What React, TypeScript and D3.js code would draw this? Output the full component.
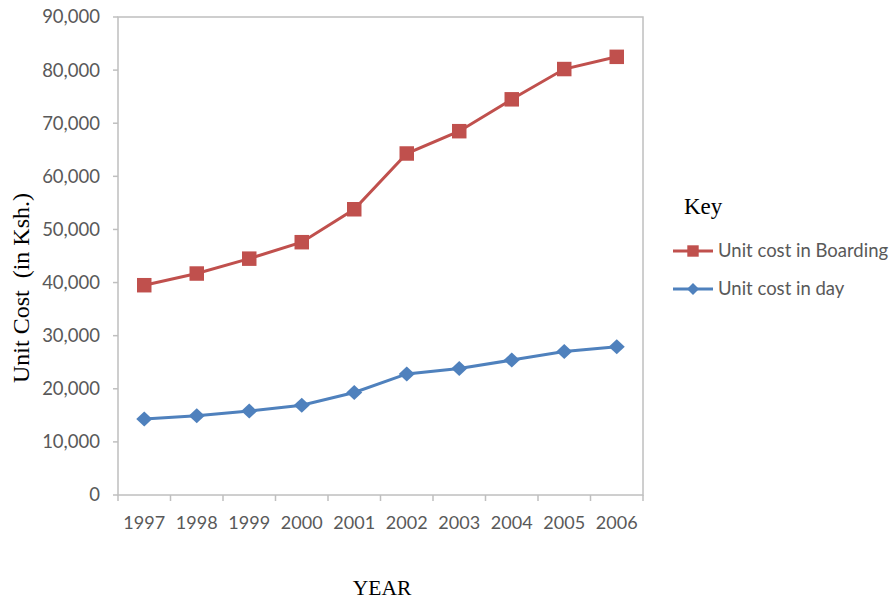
import React from "react";
import * as d3 from "d3";

// Unit cost per student (Ksh.), 1997–2006
const years = ["1997", "1998", "1999", "2000", "2001", "2002", "2003", "2004", "2005", "2006"];
const boardingCost = [39500, 41700, 44500, 47600, 53800, 64300, 68500, 74500, 80200, 82500];
const dayCost = [14300, 14900, 15800, 16900, 19300, 22800, 23800, 25400, 27000, 27900];
const yTicks = [0, 10000, 20000, 30000, 40000, 50000, 60000, 70000, 80000, 90000];
const seriesNames = ["Unit cost in Boarding", "Unit cost in day"];

const W = 893;
const H = 601;
const plot = { left: 118, right: 643, top: 17, bottom: 495 };

const RED = "#C0504D";
const BLUE = "#4F81BD";
const AXIS = "#BFBFBF";
const LABEL = "#595959";
const SANS = "Lato, 'Open Sans', sans-serif";
const SERIF = "'Liberation Serif', 'DejaVu Serif', serif";

// diamond marker: a square turned 45°
const diamondPath = (hw: number, hh: number) => `M0,${-hh}L${hw},0L0,${hh}L${-hw},0Z`;

export default function App() {
  const x = d3.scaleBand<string>().domain(years).range([plot.left, plot.right]).padding(0);
  const y = d3.scaleLinear().domain([0, 90000]).range([plot.bottom, plot.top]);
  const cx = (yr: string) => (x(yr) as number) + x.bandwidth() / 2;

  const line = d3
    .line<number>()
    .x((_, i) => cx(years[i]))
    .y((d) => y(d));

  const square = d3.symbol(d3.symbolSquare, 210);
  const boundaries = years.map((yr) => x(yr) as number).concat([plot.right]);

  return (
    <svg
      width={W}
      height={H}
      style={{ position: "absolute", left: 0, top: 0, background: "#fff" }}
    >
      {/* plot frame */}
      <rect
        x={plot.left}
        y={plot.top}
        width={plot.right - plot.left}
        height={plot.bottom - plot.top}
        fill="none"
        stroke={AXIS}
        strokeWidth={1.5}
      />

      {/* y axis ticks and labels */}
      {yTicks.map((t) => (
        <g key={t}>
          <line x1={plot.left - 5} x2={plot.left} y1={y(t)} y2={y(t)} stroke={AXIS} strokeWidth={1.5} />
          <text
            x={plot.left - 18}
            y={y(t)}
            dy="0.35em"
            textAnchor="end"
            fontFamily={SANS}
            fontSize={18.5}
            fill={LABEL}
          >
            {d3.format(",")(t)}
          </text>
        </g>
      ))}

      {/* x axis ticks and labels */}
      {boundaries.map((b, i) => (
        <line key={i} x1={b} x2={b} y1={plot.bottom} y2={plot.bottom + 6} stroke={AXIS} strokeWidth={1.5} />
      ))}
      {years.map((yr) => (
        <text
          key={yr}
          x={cx(yr)}
          y={529}
          textAnchor="middle"
          fontFamily={SANS}
          fontSize={18}
          fill={LABEL}
        >
          {yr}
        </text>
      ))}

      {/* axis titles */}
      <text
        transform={`translate(29, 288) rotate(-90)`}
        textAnchor="middle"
        fontFamily={SERIF}
        fontSize={24}
        fill="#000"
        style={{ whiteSpace: "pre" }}
      >
        {"Unit Cost  (in Ksh.)"}
      </text>
      <text x={382} y={595} textAnchor="middle" fontFamily={SERIF} fontSize={21.5} fill="#000">
        YEAR
      </text>

      {/* series */}
      <path d={line(boardingCost) || ""} fill="none" stroke={RED} strokeWidth={3} />
      {boardingCost.map((v, i) => (
        <path key={i} d={square() || ""} transform={`translate(${cx(years[i])},${y(v)})`} fill={RED} />
      ))}
      <path d={line(dayCost) || ""} fill="none" stroke={BLUE} strokeWidth={3} />
      {dayCost.map((v, i) => (
        <path key={i} d={diamondPath(8, 7.5)} transform={`translate(${cx(years[i])},${y(v)})`} fill={BLUE} />
      ))}

      {/* key */}
      <text x={684} y={214} fontFamily={SERIF} fontSize={23} fill="#000">
        Key
      </text>
      <g transform="translate(0,251)">
        <line x1={673} x2={713} y1={0} y2={0} stroke={RED} strokeWidth={3} />
        <path d={d3.symbol(d3.symbolSquare, 130)() || ""} transform="translate(693,0)" fill={RED} />
        <text x={718} y={0} dy="0.35em" fontFamily={SANS} fontSize={18.5} fill={LABEL}>
          {seriesNames[0]}
        </text>
      </g>
      <g transform="translate(0,289)">
        <line x1={673} x2={713} y1={0} y2={0} stroke={BLUE} strokeWidth={3} />
        <path d={diamondPath(6, 6)} transform="translate(693,0)" fill={BLUE} />
        <text x={718} y={0} dy="0.35em" fontFamily={SANS} fontSize={18.5} fill={LABEL}>
          {seriesNames[1]}
        </text>
      </g>
    </svg>
  );
}
